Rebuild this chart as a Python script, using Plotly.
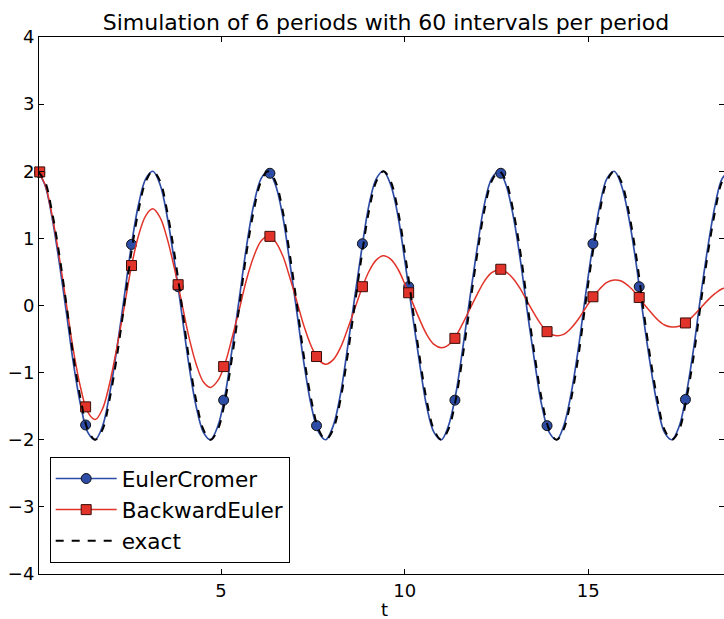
import plotly.graph_objects as go

t_grid = [0.00, 0.20, 0.39, 0.59, 0.79, 0.98, 1.18, 1.37, 1.57, 1.77, 1.96, 2.16, 2.36, 2.55, 2.75, 2.95,
          3.14, 3.34, 3.53, 3.73, 3.93, 4.12, 4.32, 4.52, 4.71, 4.91, 5.11, 5.30, 5.50, 5.69, 5.89, 6.09,
          6.28, 6.48, 6.68, 6.87, 7.07, 7.26, 7.46, 7.66, 7.85, 8.05, 8.25, 8.44, 8.64, 8.84, 9.03, 9.23,
          9.42, 9.62, 9.82, 10.01, 10.21, 10.41, 10.60, 10.80, 11.00, 11.19, 11.39, 11.58, 11.78, 11.98, 12.17, 12.37,
          12.57, 12.76, 12.96, 13.16, 13.35, 13.55, 13.74, 13.94, 14.14, 14.33, 14.53, 14.73, 14.92, 15.12, 15.32, 15.51,
          15.71, 15.90, 16.10, 16.30, 16.49, 16.69, 16.89, 17.08, 17.28, 17.48, 17.67, 17.87, 18.06, 18.26, 18.46, 18.65,
          18.85]

exact_y = [2, 1.85, 1.41, 0.77, 0, -0.77, -1.41, -1.85, -2, -1.85, -1.41, -0.77, 0, 0.77, 1.41, 1.85,
           2, 1.85, 1.41, 0.77, 0, -0.77, -1.41, -1.85, -2, -1.85, -1.41, -0.77, 0, 0.77, 1.41, 1.85,
           2, 1.85, 1.41, 0.77, 0, -0.77, -1.41, -1.85, -2, -1.85, -1.41, -0.77, 0, 0.77, 1.41, 1.85,
           2, 1.85, 1.41, 0.77, 0, -0.77, -1.41, -1.85, -2, -1.85, -1.41, -0.77, 0, 0.77, 1.41, 1.85,
           2, 1.85, 1.41, 0.77, 0, -0.77, -1.41, -1.85, -2, -1.85, -1.41, -0.77, 0, 0.77, 1.41, 1.85,
           2, 1.85, 1.41, 0.77, 0, -0.77, -1.41, -1.85, -2, -1.85, -1.41, -0.77, 0, 0.77, 1.41, 1.85,
           2]

ec_y = [2.0, 1.80, 1.33, 0.65, -0.12, -0.87, -1.50, -1.89, -2.0, -1.80, -1.33, -0.65, 0.12, 0.87, 1.50, 1.89,
        2.0, 1.80, 1.33, 0.65, -0.12, -0.87, -1.50, -1.89, -2.0, -1.80, -1.33, -0.65, 0.12, 0.87, 1.50, 1.89,
        2.0, 1.80, 1.33, 0.65, -0.12, -0.87, -1.50, -1.89, -2.0, -1.80, -1.33, -0.65, 0.12, 0.87, 1.50, 1.89,
        2.0, 1.80, 1.33, 0.65, -0.12, -0.87, -1.50, -1.89, -2.0, -1.80, -1.33, -0.65, 0.12, 0.87, 1.50, 1.89,
        2.0, 1.80, 1.33, 0.65, -0.12, -0.87, -1.50, -1.89, -2.0, -1.80, -1.33, -0.65, 0.12, 0.87, 1.50, 1.89,
        2.0, 1.80, 1.33, 0.65, -0.12, -0.87, -1.50, -1.89, -2.0, -1.80, -1.33, -0.65, 0.12, 0.87, 1.50, 1.89,
        2.0]

be_y = [2.00, 1.81, 1.36, 0.73, 0.01, -0.68, -1.24, -1.59, -1.70, -1.54, -1.17, -0.63, -0.03, 0.56, 1.04, 1.34,
        1.44, 1.31, 1.00, 0.55, 0.04, -0.46, -0.87, -1.14, -1.22, -1.12, -0.86, -0.48, -0.05, 0.38, 0.73, 0.96,
        1.03, 0.95, 0.74, 0.42, 0.05, -0.31, -0.61, -0.81, -0.875, -0.81, -0.63, -0.36, -0.05, 0.26, 0.51, 0.68,
        0.74, 0.69, 0.54, 0.315, 0.05, -0.21, -0.43, -0.58, -0.63, -0.59, -0.46, -0.27, -0.05, 0.17, 0.36, 0.49,
        0.53, 0.50, 0.40, 0.24, 0.05, -0.14, -0.30, -0.41, -0.45, -0.43, -0.34, -0.205, -0.045, 0.115, 0.25, 0.345,
        0.38, 0.365, 0.29, 0.18, 0.04, -0.09, -0.21, -0.29, -0.32, -0.31, -0.25, -0.15, -0.04, 0.08, 0.18, 0.25,
        0.27]

marker_t = [0.06, 1.31, 2.56, 3.83, 5.07, 6.33, 7.60, 8.85, 10.11, 11.37, 12.62, 13.88, 15.13, 16.39, 17.65]
ec_marker_y = [1.98, -1.78, 0.91, 0.28, -1.41, 1.97, -1.79, 0.92, 0.28, -1.41, 1.97, -1.79, 0.92, 0.28, -1.40]
be_marker_y = [1.99, -1.51, 0.595, 0.31, -0.91, 1.03, -0.76, 0.28, 0.19, -0.49, 0.54, -0.39, 0.13, 0.12, -0.26]

y_ticks = [-4, -3, -2, -1, 0, 1, 2, 3, 4]
x_ticks = [5, 10, 15]

BLUE = "#2d4ca6"
RED = "#e2332a"
FONT = "DejaVu Sans"

fig = go.Figure()

# legend-only entries
fig.add_trace(go.Scatter(x=[None], y=[None], mode="lines+markers", name="EulerCromer",
                         line=dict(color=BLUE, width=1.5),
                         marker=dict(symbol="circle", size=10, color=BLUE, line=dict(color="#111", width=1))))
fig.add_trace(go.Scatter(x=[None], y=[None], mode="lines+markers", name="BackwardEuler",
                         line=dict(color=RED, width=1.5),
                         marker=dict(symbol="square", size=10, color=RED, line=dict(color="#3a0d08", width=1))))

# EulerCromer
fig.add_trace(go.Scatter(x=t_grid, y=ec_y, mode="lines", showlegend=False,
                         line=dict(color=BLUE, width=1.7, shape="spline", smoothing=1)))
fig.add_trace(go.Scatter(x=marker_t, y=ec_marker_y, mode="markers", showlegend=False, cliponaxis=False,
                         marker=dict(symbol="circle", size=10, color=BLUE, line=dict(color="#111", width=1))))
# BackwardEuler
fig.add_trace(go.Scatter(x=t_grid, y=be_y, mode="lines", showlegend=False,
                         line=dict(color=RED, width=1.5, shape="spline", smoothing=1)))
fig.add_trace(go.Scatter(x=marker_t, y=be_marker_y, mode="markers", showlegend=False, cliponaxis=False,
                         marker=dict(symbol="square", size=10, color=RED, line=dict(color="#3a0d08", width=1))))
# exact
fig.add_trace(go.Scatter(x=t_grid, y=exact_y, mode="lines", name="exact",
                         line=dict(color="black", width=2, dash="8px,8px", shape="spline", smoothing=1)))

axis_common = dict(showgrid=False, zeroline=False, ticks="inside", ticklen=5, tickwidth=1,
                   tickcolor="black", showline=True, linecolor="black", linewidth=1,
                   tickfont=dict(family=FONT, size=18, color="black"))

fig.update_layout(
    width=724, height=619,
    margin=dict(l=39, r=0, t=37, b=45, pad=0),
    paper_bgcolor="white", plot_bgcolor="white",
    font=dict(family=FONT, color="black"),
    title=dict(text="Simulation of 6 periods with 60 intervals per period",
               font=dict(family=FONT, size=22, color="black"),
               x=0.5066, xref="paper", xanchor="center",
               y=1 - 22 / 619, yref="container", yanchor="middle"),
    xaxis=dict(range=[0.04, 18.70], tickvals=x_ticks, mirror="ticks", **axis_common),
    yaxis=dict(range=[-4, 4], tickvals=y_ticks, mirror="ticks", **axis_common),
    legend=dict(x=0.0156, y=0.0205, xanchor="left", yanchor="bottom",
                bgcolor="white", bordercolor="black", borderwidth=1,
                font=dict(family=FONT, size=21.6, color="black"),
                itemwidth=61, tracegroupgap=0),
    annotations=[dict(text="t", x=0.504, y=-0.066, xref="paper", yref="paper",
                      xanchor="center", yanchor="middle", showarrow=False,
                      font=dict(family=FONT, size=18, color="black"))],
    showlegend=True,
)

fig.write_html("out.html", config={"displayModeBar": False},
               post_script="document.body.style.margin='0';document.body.style.overflow='hidden';")
